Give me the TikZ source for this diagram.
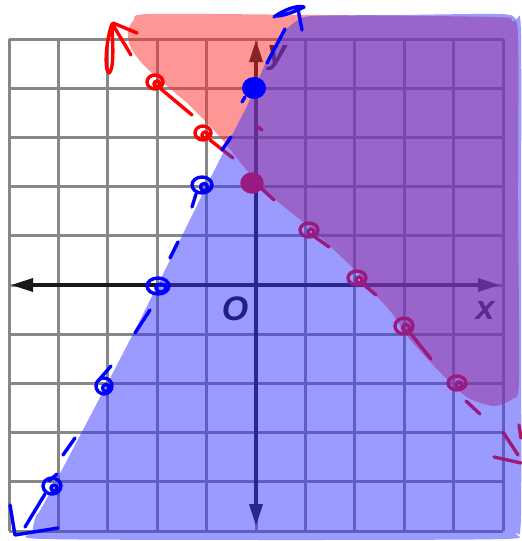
\documentclass[tikz,border=0pt]{standalone}
\usepackage{fontspec}
\setmainfont{Liberation Sans}
\usetikzlibrary{arrows.meta}
\definecolor{gridc}{RGB}{135,135,135}
\definecolor{axisc}{RGB}{25,25,25}
\definecolor{textc}{RGB}{10,10,10}
\definecolor{redsh}{RGB}{255,45,45}
\definecolor{bluesh}{RGB}{55,55,255}
\definecolor{penred}{RGB}{255,0,0}
\definecolor{penblue}{RGB}{0,0,255}
\begin{document}
\begin{tikzpicture}[x=1pt,y=-1pt,
  gridline/.style={gridc, line width=3pt},
  axisline/.style={axisc, line width=3.5pt, {Triangle[length=22pt,width=13pt]}-{Triangle[length=22pt,width=13pt]}},
  lab/.style={font=\fontsize{34}{34}\selectfont\bfseries\itshape, text=textc, inner sep=0pt},
  pen/.style={line width=3.4pt, line cap=round, line join=round},
  rpen/.style={pen, draw=penred},
  bpen/.style={pen, draw=penblue},
  redshade/.style={fill=redsh, fill opacity=0.5},
  blueshade/.style={fill=bluesh, fill opacity=0.5},
]
\useasboundingbox (0,0) rectangle (522,541);

% grid
\foreach \i in {0,...,10} {
  \draw[gridline] ({9+\i*49.4},39) -- ({9+\i*49.4},531);
  \draw[gridline] (9,{39+\i*49.2}) -- (503,{39+\i*49.2});
}

% axes
\coordinate (xl) at (11,285);
\coordinate (xr) at (500,285);
\coordinate (yt) at (256,40);
\coordinate (yb) at (256,526);
\draw[axisline] (xl) -- (xr);
\draw[axisline] (yt) -- (yb);

% labels
\node[lab] (O) at (235,309) {O};
\node[lab] (xlab) at (485,311) {x};
\node[lab] (ylab) at (277,58) {y};

% red shading
\fill[redshade] plot[smooth cycle, tension=0.45] coordinates {
  (150,14) (320,15) (495,17) (512,21) (518,36) (518,200) (519,380)
  (512,399) (494,406) (470,399) (455,387) (434,366) (408,337) (391,312)
  (371,290) (356,271) (310,228) (261,187) (220,137) (187,103) (157,78)
  (140,61) (130,46) (128,31) (134,20)};

% red pen strokes
\draw[rpen] (112,24) .. controls (106,40) and (104,70) .. (109,73) .. controls (114,70) and (113,45) .. (112,28);
\draw[rpen] (113,23) -- (137,33);
\draw[rpen] (113,25) -- (131,55);
\draw[rpen] (155,82) ellipse [x radius=8pt, y radius=7pt];
\draw[rpen] (157,84) circle [radius=3pt];
\draw[rpen] (161,89) -- (192,115);
\draw[rpen] (203,133) ellipse [x radius=8pt, y radius=7pt];
\draw[rpen] (205,135) circle [radius=3pt];
\draw[rpen] (210,140) -- (233,158);
\draw[rpen, fill=penred] (252,183) ellipse [x radius=10pt, y radius=9pt];
\draw[rpen] (261,188) -- (274,200);
\draw[rpen] (258,127) -- (262,130);
\draw[rpen] (309,230) ellipse [x radius=9pt, y radius=7pt];
\draw[rpen] (311,232) circle [radius=3pt];
\draw[rpen] (315,237) -- (329,247);
\draw[rpen] (357,278) ellipse [x radius=9pt, y radius=7pt];
\draw[rpen] (359,280) circle [radius=3pt];
\draw[rpen] (363,284) -- (376,295);
\draw[rpen] (404,326) ellipse [x radius=9pt, y radius=8pt];
\draw[rpen] (406,328) circle [radius=3.5pt];
\draw[rpen] (411,334) -- (431,359);
\draw[rpen] (457,383) ellipse [x radius=9pt, y radius=7pt];
\draw[rpen] (459,385) circle [radius=3pt];
\draw[rpen] (466,401) -- (480,414);
\draw[rpen] (503,432) -- (518,455);
\draw[rpen] (494,457) -- (521,463);
\draw[rpen] (519,425) -- (521,438);

% blue shading
\fill[blueshade] plot[smooth cycle, tension=0.45] coordinates {
  (43,539) (33,532) (36,516) (47,498) (135,330) (222,155) (245,110)
  (255,88) (266,62) (280,36) (295,22) (312,16) (400,15) (500,14)
  (516,19) (521,35) (521,280) (521,515) (516,533) (505,539) (300,540)};

% blue pen strokes
\draw[bpen] (274,17) .. controls (285,9) and (298,5) .. (304,7) .. controls (298,10) and (285,16) .. (276,16);
\draw[bpen] (298,9) -- (302,30);
\draw[bpen] (285,29) -- (267,63);
\fill[penblue] (254,88) ellipse [x radius=12pt, y radius=11pt];
\draw[bpen] (245,97) -- (242,102);
\draw[bpen] (231,137) -- (222,150);
\draw[bpen] (202,185) ellipse [x radius=10pt, y radius=8pt];
\draw[bpen] (204,187) circle [radius=3.5pt];
\draw[bpen] (196,194) -- (192,207);
\draw[bpen] (178,242) -- (170,258);
\draw[bpen] (158,286) ellipse [x radius=11pt, y radius=8pt];
\draw[bpen] (161,288) ellipse [x radius=5pt, y radius=4pt];
\draw[bpen] (150,310) -- (135,333);
\draw[bpen] (104,386) circle [radius=8pt];
\draw[bpen] (106,388) circle [radius=3.5pt];
\draw[bpen] (111,366) -- (98,381);
\draw[bpen] (75,438) -- (63,455);
\draw[bpen] (52,486) ellipse [x radius=9pt, y radius=8pt];
\draw[bpen] (54,488) circle [radius=3pt];
\draw[bpen] (57,474) -- (49,481);
\draw[bpen] (45,494) -- (25,527);
\draw[bpen] (10,505) -- (15,535) -- (58,528);
\end{tikzpicture}
\end{document}
